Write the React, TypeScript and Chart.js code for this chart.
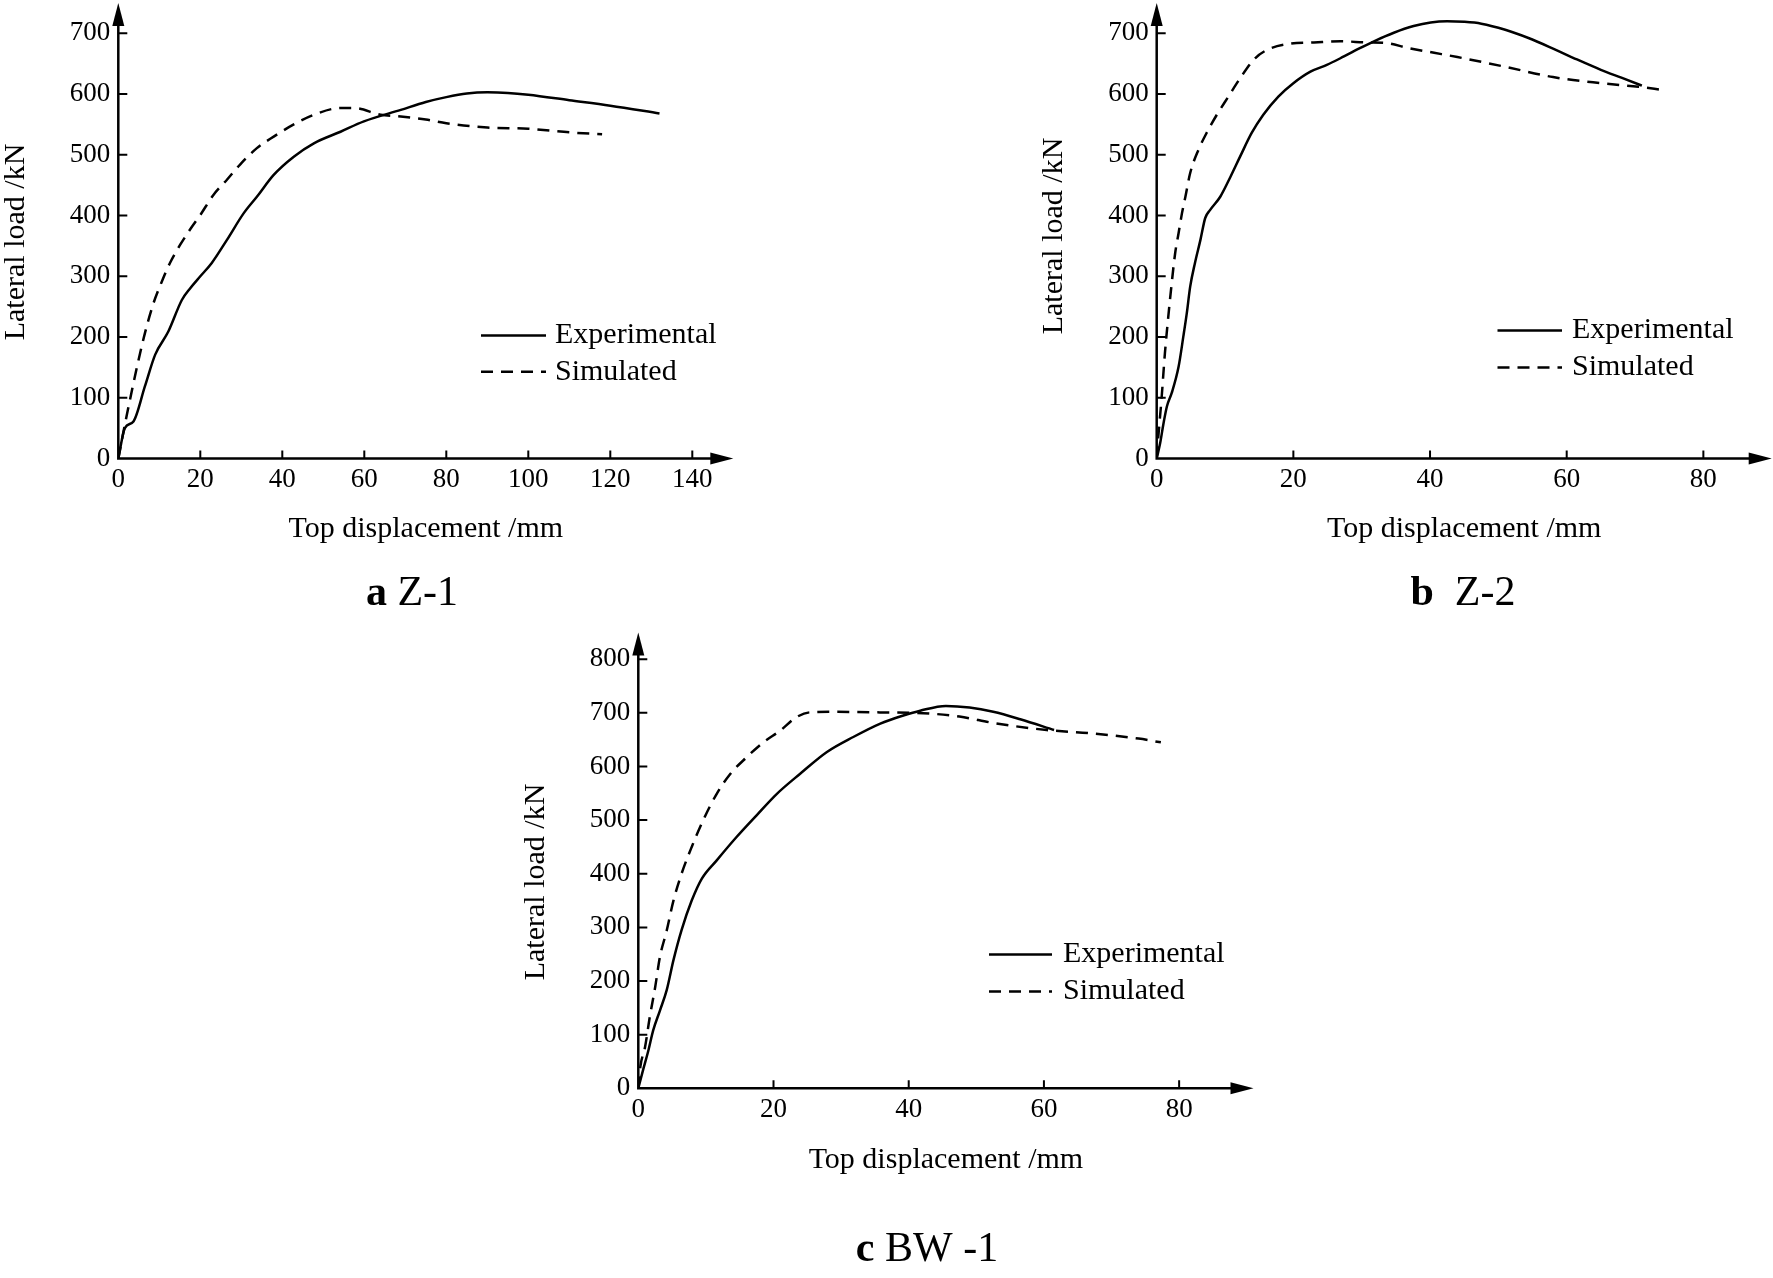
import React, { useEffect, useRef } from "react";
import { Chart, registerables } from "chart.js";

Chart.register(...registerables);

const FONT = '"Liberation Serif", "Times New Roman", "DejaVu Serif", serif';

// ---------- data ----------
const seriesLabels = ["Experimental", "Simulated"];
const yAxisTitle = "Lateral load /kN";
const xAxisTitle = "Top displacement /mm";

// a  Z-1
const aXTicks = [0, 20, 40, 60, 80, 100, 120, 140];
const aYTicks = [0, 100, 200, 300, 400, 500, 600, 700];
const aExpX = [0, 1.6, 3.7, 6.5, 9.0, 12.2, 15.5, 17.5, 20, 22.8, 26.5, 30.6, 33.8, 37.9, 42.8, 47.7, 54.2, 59.9, 68.9, 75, 80, 85, 90, 95, 100, 110, 120, 132];
const aExpY = [0, 50, 61, 119, 171, 209, 261, 280, 300, 322, 360, 404, 431, 467, 497, 519, 538, 555, 574, 587, 595, 601, 603, 602, 599, 590, 581, 568];
const aSimX = [0, 1.2, 2.0, 3.7, 5.3, 6.9, 8.6, 10.6, 12.6, 15.1, 17.5, 20, 23.2, 26.5, 29.7, 33.8, 37.9, 42.8, 47.7, 54.2, 57.5, 64, 68.9, 75, 80, 90, 100, 110, 118];
const aSimY = [0, 42, 69, 124, 173, 217, 256, 291, 322, 352, 377, 401, 434, 459, 484, 511, 530, 550, 566, 577, 577, 566, 563, 558, 552, 545, 543, 537, 534];

// b  Z-2
const bXTicks = [0, 20, 40, 60, 80];
const bYTicks = [0, 100, 200, 300, 400, 500, 600, 700];
const bExpX = [0, 0.5, 1.0, 1.5, 2.2, 3.2, 3.9, 4.4, 4.9, 5.6, 6.4, 7.1, 7.8, 9.3, 10.8, 12.2, 13.9, 15.6, 17.8, 20, 22.5, 24.9, 27.4, 29.8, 31.8, 34.7, 37.6, 40.1, 42.5, 45, 47.5, 51, 54.5, 58, 61.5, 65, 68, 71];
const bExpY = [0, 25, 58, 86, 108, 151, 201, 239, 283, 322, 360, 396, 409, 431, 464, 497, 536, 566, 596, 618, 637, 648, 662, 676, 687, 701, 712, 718, 720, 719, 716, 706, 692, 675, 657, 640, 627, 614];
const bSimX = [0, 0.2, 0.7, 1.2, 1.7, 2.2, 2.7, 3.2, 3.7, 4.2, 4.9, 6.1, 7.3, 8.8, 10.5, 12.2, 14.4, 16.4, 19.6, 23, 26.9, 30.8, 33.7, 36.7, 40.6, 44, 51, 58, 65, 70.5, 74];
const bSimY = [0, 31, 97, 173, 234, 289, 338, 371, 404, 431, 470, 508, 536, 566, 596, 626, 659, 674, 683, 685, 687, 685, 684, 676, 668, 661, 645, 628, 618, 612, 607];

// c  BW-1
const cXTicks = [0, 20, 40, 60, 80];
const cYTicks = [0, 100, 200, 300, 400, 500, 600, 700, 800];
const cExpX = [0, 0.7, 1.5, 2.2, 3.2, 4.2, 5.2, 6.4, 7.9, 9.4, 11.6, 14.5, 17.5, 20.5, 23.9, 27.9, 31.8, 35.8, 39.2, 41.7, 45.5, 49, 52.5, 56.5, 61.5];
const cExpY = [0, 34, 71, 108, 145, 183, 239, 295, 350, 391, 425, 468, 509, 549, 586, 627, 655, 680, 695, 704, 713, 710, 702, 688, 668];
const cSimX = [0, 0.3, 1.0, 1.7, 2.5, 3.2, 4.2, 5.2, 6.4, 7.9, 9.6, 11.6, 13.6, 16, 18.5, 21, 23.4, 25.4, 29.3, 34.3, 41.1, 47.5, 52.6, 60.4, 66.9, 74, 77.3];
const cSimY = [0, 40, 77, 133, 189, 245, 294, 350, 400, 450, 500, 549, 586, 617, 645, 667, 692, 701, 702, 701, 700, 693, 681, 668, 662, 652, 645];

// ---------- panels (layout) ----------
const panels = [
  {
    key: "a",
    canvas: { left: 0, top: 0, w: 770, h: 620 },
    padding: { left: 0, top: 3, right: 36.7, bottom: 61.5 },
    xMax: 150, yMax: 750, xTitlePad: 11,
    xTicks: aXTicks, yTicks: aYTicks,
    exp: [aExpX, aExpY], sim: [aSimX, aSimY],
    decor: { yTitleX: 16, yTitleY: 242, lx1: 481, lx2: 546, ltx: 555, ly: 335.5, lgap: 36.3, capLetter: "a", capText: " Z-1", capX: 412, capY: 594 },
  },
  {
    key: "b",
    canvas: { left: 900, top: 0, w: 873, h: 620 },
    padding: { left: 138.4, top: 3, right: 1.3, bottom: 61.5 },
    xMax: 90, yMax: 750, xTitlePad: 11,
    xTicks: bXTicks, yTicks: bYTicks,
    exp: [bExpX, bExpY], sim: [bSimX, bSimY],
    decor: { yTitleX: 153.7, yTitleY: 236, lx1: 597.5, lx2: 662, ltx: 672, ly: 330.5, lgap: 37, capLetter: "b", capText: "  Z-2", capX: 563, capY: 594 },
  },
  {
    key: "c",
    canvas: { left: 450, top: 620, w: 850, h: 658 },
    padding: { left: 70, top: 12.4, right: 46.5, bottom: 89.7 },
    xMax: 91, yMax: 850, xTitlePad: 9.9,
    xTicks: cXTicks, yTicks: cYTicks,
    exp: [cExpX, cExpY], sim: [cSimX, cSimY],
    decor: { yTitleX: 86.5, yTitleY: 262, lx1: 539, lx2: 602, ltx: 613, ly: 334.5, lgap: 37, capLetter: "c", capText: " BW -1", capX: 477, capY: 630 },
  },
];

const toPts = (xs: number[], ys: number[]) => xs.map((x, i) => ({ x, y: ys[i] }));

const decorPlugin = {
  id: "decor",
  afterDraw(chart: any, _args: any, o: any) {
    const { ctx, chartArea: ca, scales } = chart;
    const xs = scales.x;
    const ys = scales.y;
    const x0 = xs.getPixelForValue(0);
    const y0 = ys.getPixelForValue(0);
    const AL = 23;
    const AW = 6;
    ctx.save();
    ctx.strokeStyle = "#000";
    ctx.fillStyle = "#000";
    ctx.setLineDash([]);
    ctx.lineWidth = 2.5;
    ctx.beginPath();
    ctx.moveTo(x0, y0 + 1.25);
    ctx.lineTo(x0, ca.top + AL - 1);
    ctx.moveTo(x0 - 1.25, y0);
    ctx.lineTo(ca.right - AL + 1, y0);
    ctx.stroke();
    ctx.beginPath();
    ctx.moveTo(x0, ca.top);
    ctx.lineTo(x0 - AW, ca.top + AL);
    ctx.lineTo(x0 + AW, ca.top + AL);
    ctx.closePath();
    ctx.fill();
    ctx.beginPath();
    ctx.moveTo(ca.right, y0);
    ctx.lineTo(ca.right - AL, y0 - AW);
    ctx.lineTo(ca.right - AL, y0 + AW);
    ctx.closePath();
    ctx.fill();
    ctx.lineWidth = 2;
    ctx.beginPath();
    ys.ticks.forEach((t: any) => {
      if (t.value === 0) return;
      const p = ys.getPixelForValue(t.value);
      ctx.moveTo(x0, p);
      ctx.lineTo(x0 + 9, p);
    });
    xs.ticks.forEach((t: any) => {
      if (t.value === 0) return;
      const p = xs.getPixelForValue(t.value);
      ctx.moveTo(p, y0);
      ctx.lineTo(p, y0 - 8);
    });
    ctx.stroke();

    // y axis title
    ctx.font = `30px ${FONT}`;
    ctx.textAlign = "center";
    ctx.textBaseline = "middle";
    ctx.save();
    ctx.translate(o.yTitleX, o.yTitleY);
    ctx.rotate(-Math.PI / 2);
    ctx.fillText(o.yTitle, 0, 0);
    ctx.restore();

    // legend
    chart.data.datasets.forEach((ds: any, i: number) => {
      const ly = o.ly + i * o.lgap;
      ctx.beginPath();
      ctx.lineWidth = ds.borderWidth;
      ctx.setLineDash(ds.borderDash || []);
      ctx.moveTo(o.lx1, ly);
      ctx.lineTo(o.lx2, ly);
      ctx.stroke();
      ctx.setLineDash([]);
      ctx.textAlign = "left";
      ctx.font = `30px ${FONT}`;
      ctx.fillText(ds.label, o.ltx, ly);
    });

    // caption
    const bold = `bold 42px ${FONT}`;
    const reg = `42px ${FONT}`;
    ctx.font = bold;
    const w1 = ctx.measureText(o.capLetter).width;
    ctx.font = reg;
    const w2 = ctx.measureText(o.capText).width;
    const cx = o.capX - (w1 + w2) / 2;
    ctx.textAlign = "left";
    ctx.font = bold;
    ctx.fillText(o.capLetter, cx, o.capY);
    ctx.font = reg;
    ctx.fillText(o.capText, cx + w1, o.capY);
    ctx.restore();
  },
};

function Panel({ p }: { p: any }) {
  const ref = useRef<HTMLCanvasElement | null>(null);
  useEffect(() => {
    if (!ref.current) return;
    const tickFont = { family: FONT, size: 27 };
    const chart = new Chart(ref.current, {
      type: "line",
      data: {
        datasets: [
          {
            label: seriesLabels[0],
            data: toPts(p.exp[0], p.exp[1]),
            borderColor: "#000",
            borderWidth: 2.5,
            pointRadius: 0,
            fill: false,
            cubicInterpolationMode: "monotone",
            borderJoinStyle: "round",
          },
          {
            label: seriesLabels[1],
            data: toPts(p.sim[0], p.sim[1]),
            borderColor: "#000",
            borderWidth: 2.5,
            borderDash: [12, 8],
            pointRadius: 0,
            fill: false,
            cubicInterpolationMode: "monotone",
          },
        ],
      } as any,
      options: {
        responsive: false,
        animation: false,
        events: [],
        layout: { padding: p.padding },
        plugins: {
          legend: { display: false },
          tooltip: { enabled: false },
          decor: { ...p.decor, yTitle: yAxisTitle },
        } as any,
        scales: {
          x: {
            type: "linear",
            min: 0,
            max: p.xMax,
            grid: { display: false, drawTicks: false },
            border: { display: false },
            ticks: { font: tickFont, color: "#000", padding: 5, maxRotation: 0, autoSkip: false },
            title: {
              display: true,
              text: xAxisTitle,
              color: "#000",
              font: { family: FONT, size: 30 },
              padding: { top: 0, bottom: p.xTitlePad },
            },
            afterBuildTicks: (s: any) => {
              s.ticks = p.xTicks.map((v: number) => ({ value: v }));
            },
            afterFit: (s: any) => {
              s.height = 100;
              s.paddingLeft = 0;
              s.paddingRight = 0;
            },
          },
          y: {
            type: "linear",
            min: 0,
            max: p.yMax,
            grid: { display: false, drawTicks: false },
            border: { display: false },
            ticks: { font: tickFont, color: "#000", padding: 8, autoSkip: false },
            afterBuildTicks: (s: any) => {
              s.ticks = p.yTicks.map((v: number) => ({ value: v }));
            },
            afterFit: (s: any) => {
              s.width = 118.3;
              s.paddingTop = 0;
              s.paddingBottom = 0;
            },
          },
        } as any,
      },
      plugins: [decorPlugin as any],
    });
    return () => chart.destroy();
  }, [p]);
  return (
    <canvas
      ref={ref}
      width={p.canvas.w}
      height={p.canvas.h}
      style={{ position: "absolute", left: p.canvas.left, top: p.canvas.top, width: p.canvas.w, height: p.canvas.h }}
    />
  );
}

export default function App() {
  return (
    <div style={{ position: "absolute", left: 0, top: 0, width: 1773, height: 1278, background: "#fff", overflow: "hidden" }}>
      {panels.map((p) => (
        <Panel key={p.key} p={p} />
      ))}
    </div>
  );
}
